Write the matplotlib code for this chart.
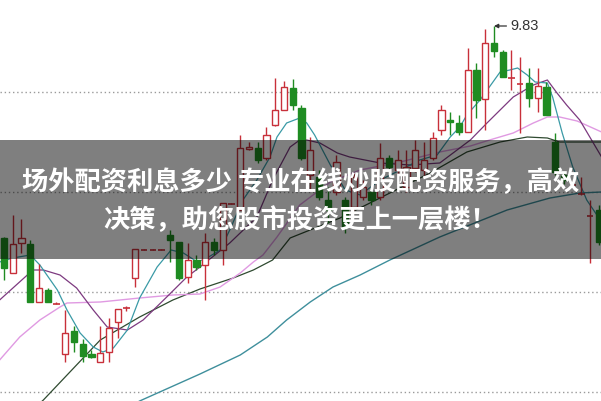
import matplotlib
matplotlib.use("Agg")
import matplotlib.pyplot as plt
from matplotlib.patches import Rectangle

# daily candles: open, high, low, close
opens = [8.77, 8.595, 8.745, 8.74, 8.45, 8.51, 8.44, 8.19, 8.305, 8.24,
         8.19, 8.15, 8.20, 8.35, 8.42, 8.57, 8.71, 8.71, 8.71, 8.785,
         8.75, 8.575, 8.66, 8.635, 8.75, 8.71, 8.94, 8.91, 9.215, 9.22,
         9.17, 9.335, 9.41, 9.52, 9.42, 9.085, 9.075, 8.96, 9.0, 8.96,
         8.925, 8.975, 9.0, 8.975, 9.17, 9.11, 9.025, 9.12, 9.11, 9.17,
         9.31, 9.36, 9.345, 9.30, 9.61, 9.465, 9.745, 9.70, 9.57, 9.54,
         9.545, 9.47, 9.525, 9.25, 9.085, 9.035, 8.99, 8.88, 8.91]
highs = [8.775, 8.885, 8.865, 8.76, 8.64, 8.52, 8.45, 8.41, 8.33, 8.265,
         8.21, 8.33, 8.37, 8.415, 8.43, 8.715, 8.715, 8.715, 8.715, 8.81,
         8.75, 8.745, 8.685, 8.795, 8.77, 8.945, 8.945, 9.285, 9.25, 9.25,
         9.325, 9.57, 9.555, 9.565, 9.435, 9.275, 9.11, 9.025, 9.185, 8.975,
         9.095, 9.06, 9.02, 9.245, 9.185, 9.21, 9.21, 9.26, 9.25, 9.30,
         9.435, 9.40, 9.385, 9.72, 9.645, 9.815, 9.83, 9.71, 9.71, 9.675,
         9.62, 9.62, 9.55, 9.295, 9.10, 9.06, 9.075, 8.96, 8.935]
lows = [8.56, 8.595, 8.695, 8.45, 8.45, 8.45, 8.44, 8.15, 8.20, 8.15,
        8.17, 8.15, 8.15, 8.27, 8.405, 8.525, 8.71, 8.71, 8.71, 8.65,
        8.56, 8.545, 8.61, 8.46, 8.685, 8.635, 8.94, 8.91, 9.21, 9.145,
        9.16, 9.33, 9.41, 9.41, 9.16, 9.01, 8.96, 8.845, 8.985, 8.795,
        8.91, 8.96, 8.935, 8.96, 9.11, 9.085, 9.0, 9.10, 9.085, 9.16,
        9.285, 9.285, 9.285, 9.30, 9.37, 9.31, 9.675, 9.575, 9.51, 9.295,
        9.425, 9.40, 9.385, 9.085, 9.04, 9.02, 8.985, 8.645, 8.735]
closes = [8.62, 8.74, 8.77, 8.45, 8.52, 8.45, 8.445, 8.295, 8.25, 8.18,
          8.175, 8.195, 8.32, 8.415, 8.425, 8.715, 8.715, 8.715, 8.715, 8.76,
          8.57, 8.66, 8.625, 8.75, 8.71, 8.945, 8.945, 9.22, 9.225, 9.16,
          9.285, 9.41, 9.525, 9.435, 9.17, 9.21, 8.975, 8.91, 9.15, 8.825,
          9.075, 9.025, 8.96, 9.17, 9.125, 9.16, 9.125, 9.21, 9.16, 9.27,
          9.41, 9.35, 9.30, 9.61, 9.46, 9.745, 9.705, 9.575, 9.575, 9.545,
          9.47, 9.53, 9.385, 9.10, 9.06, 9.04, 8.995, 8.885, 8.75]

# moving average lines (day position, price)
ma5_x = [-0.5, 1, 3, 4.1, 6.1, 7.2, 8.7, 10.2, 11.3, 12.5, 14.1, 15.5, 17.5,
         19.1, 20.5, 22.1, 23.2, 24.7, 25.8, 27.3, 28.9, 30.4, 31.2, 32.3,
         33.8, 34.6, 35.5, 37.3, 39, 40.7, 43, 45.3, 47.5, 49.5, 51, 52.1,
         52.9, 54.4, 55.8, 56.7, 57.8, 58.7, 59.8, 60.7, 62.1, 62.7, 63.8,
         65, 66.6, 68.3]
ma5_y = [8.65, 8.67, 8.685, 8.635, 8.51, 8.41, 8.295, 8.225, 8.20, 8.22,
         8.31, 8.47, 8.625, 8.71, 8.695, 8.65, 8.67, 8.71, 8.81, 8.96, 9.06,
         9.175, 9.275, 9.345, 9.37, 9.345, 9.285, 9.135, 9.01, 8.985, 9.06,
         9.11, 9.16, 9.185, 9.275, 9.325, 9.385, 9.46, 9.545, 9.60, 9.61,
         9.62, 9.585, 9.55, 9.545, 9.475, 9.295, 9.125, 8.96, 8.85]
ma10_x = [-0.5, 3.3, 4.5, 6.4, 8.3, 10.2, 11.8, 14.1, 15.9, 18.6, 20.9, 22.4,
          25.8, 28.9, 30.7, 32.7, 33.8, 34.6, 36.1, 38.1, 39.5, 43, 46.4,
          49.8, 53.3, 55.2, 58.2, 60.5, 62.1, 63.2, 64.3, 65.8, 68.3]
ma10_y = [8.46, 8.61, 8.61, 8.585, 8.52, 8.41, 8.325, 8.31, 8.36, 8.475,
          8.575, 8.625, 8.745, 8.875, 9.06, 9.225, 9.26, 9.26, 9.245, 9.195,
          9.175, 9.145, 9.135, 9.145, 9.26, 9.345, 9.475, 9.535, 9.56, 9.495,
          9.435, 9.36, 9.175]
ma20_x = [-0.5, 1.8, 4.1, 6.4, 7.2, 11, 15.5, 19.3, 22.4, 24.7, 27, 28.5,
          29.6, 31.2, 33.8, 37.3, 40.7, 45.3, 49.8, 53.3, 55.5, 58.2, 60.5,
          62.1, 63.5, 65.5, 68.3]
ma20_y = [8.16, 8.275, 8.36, 8.425, 8.445, 8.45, 8.47, 8.485, 8.49, 8.525,
          8.595, 8.65, 8.685, 8.775, 8.935, 9.05, 9.11, 9.15, 9.20, 9.23,
          9.26, 9.295, 9.345, 9.375, 9.375, 9.355, 9.30]
ma30_x = [3.0, 4.5, 11, 15.5, 19.3, 22.4, 26.2, 28.5, 30.7, 32.7, 38.4, 44.1,
          48.7, 52.9, 56.7, 59.8, 62.1, 63.5, 68.3]
ma30_y = [7.90, 7.96, 8.26, 8.375, 8.46, 8.515, 8.57, 8.61, 8.66, 8.77, 8.87,
          8.995, 9.095, 9.20, 9.25, 9.275, 9.27, 9.25, 9.25]
ma60_x = [13.3, 15.5, 22.4, 27, 30.1, 32.3, 35, 37.6, 40.7, 44.1, 49.8, 57.5,
          62.4, 65.8, 68.3]
ma60_y = [7.90, 7.955, 8.09, 8.185, 8.275, 8.36, 8.45, 8.525, 8.585, 8.66,
          8.775, 8.91, 8.97, 8.995, 9.0]

grid_levels = [9.5, 9.0, 8.5, 8.0]
top_price = 9.83

line1 = "场外配资利息多少 专业在线炒股配资服务，高效"
line2 = "决策，助您股市投资更上一层楼！"

red = "#c8303a"
green = "#1f8c22"

fig = plt.figure(figsize=(6.01, 4.01), dpi=100)
ax = fig.add_axes([0, 0, 1, 1])
ax.set_xlim(-0.457, 68.23)
ax.set_ylim(7.955, 9.96)
ax.axis("off")

for g in grid_levels:
    ax.axhline(g, color="#9a9a9a", lw=1.0, ls=(0, (1, 2)), zorder=1)

ax.plot(ma60_x, ma60_y, color="#3f8f9c", lw=1.0, zorder=2)
ax.plot(ma30_x, ma30_y, color="#2f4a30", lw=0.9, zorder=2)
ax.plot(ma20_x, ma20_y, color="#e09ae2", lw=1.0, zorder=2)
ax.plot(ma10_x, ma10_y, color="#7d3a80", lw=0.9, zorder=2)
ax.plot(ma5_x, ma5_y, color="#3a9aa6", lw=0.9, zorder=2)

w = 0.7
for i, (o, h, l, c) in enumerate(zip(opens, highs, lows, closes)):
    col = red if c >= o else green
    ax.vlines(i, l, h, color=col, lw=1.0, zorder=3)
    if abs(c - o) < 0.006:
        ax.hlines((o + c) / 2, i - w / 2, i + w / 2, color=col, lw=1.2, zorder=4)
    elif c > o:
        ax.add_patch(Rectangle((i - w / 2, o), w, c - o, facecolor="white",
                               edgecolor=col, lw=1.0, zorder=4))
    else:
        ax.add_patch(Rectangle((i - w / 2, c), w, o - c, facecolor=col,
                               edgecolor=col, lw=1.0, zorder=4))

ax.annotate(f"{top_price:.2f}", xy=(56, top_price), xytext=(57.9, top_price),
            ha="left", va="center", fontsize=10.5, color="#333333",
            family="Liberation Sans",
            arrowprops=dict(arrowstyle="-|>", color="#333333", lw=0.9,
                            mutation_scale=6, shrinkA=1, shrinkB=0),
            zorder=5)

# grey caption band
fig.add_artist(Rectangle((0, 1 - 259 / 401), 1, 119 / 401,
                         transform=fig.transFigure, facecolor="black",
                         alpha=0.5, edgecolor="none", zorder=10))
fonts = ["Noto Sans CJK SC", "DejaVu Sans"]
fig.text(0.5, 1 - 183 / 401, line1, ha="center", va="center", color="white",
         fontsize=18.9, fontweight="bold", family=fonts, zorder=11)
fig.text(0.5, 1 - 221 / 401, line2, ha="center", va="center", color="white",
         fontsize=18.9, fontweight="bold", family=fonts, zorder=11)

fig.savefig("out.png", dpi=100)
